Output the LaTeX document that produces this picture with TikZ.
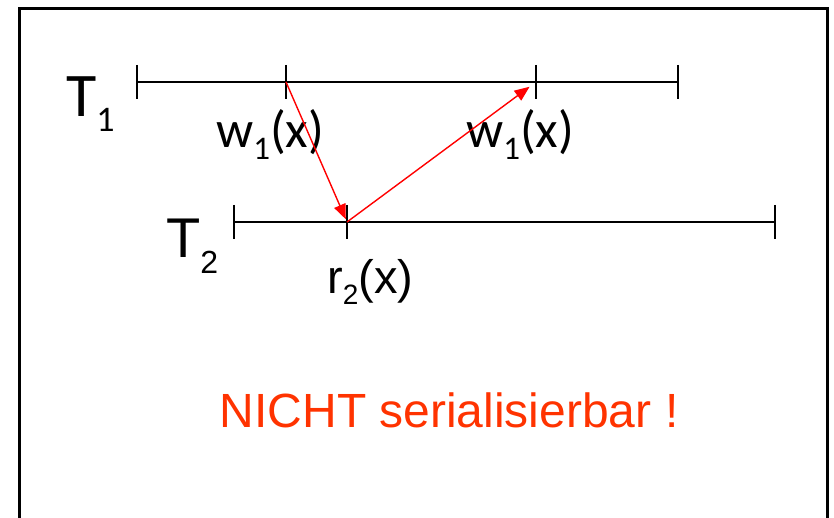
\documentclass[tikz,border=0pt]{standalone}
\usepackage{fontspec}
\setmainfont{Liberation Sans}
\newfontfamily\cfont{Carlito}
\usetikzlibrary{arrows.meta}
\definecolor{confred}{RGB}{255,0,0}
\definecolor{warnred}{RGB}{255,51,0}
\newcommand{\fsz}[1]{\fontsize{#1}{#1}\selectfont}
\newcommand{\lowsub}[3]{\raisebox{-#1}{\fsz{#2}#3}}

\begin{document}
\begin{tikzpicture}[x=1pt,y=-1pt,
  tline/.style={line width=1.5pt},
  conf/.style={draw=confred,line width=1.4pt,-{Triangle[length=15pt,width=12pt]}},
  lbl/.style={anchor=base west,inner sep=0pt}]
\useasboundingbox (0,0) rectangle (834,518);
\clip (0,0) rectangle (834,518);
% frame (runs off the bottom)
\draw[line width=3.5pt] (19.5,540) |- (827.5,8.5) -- (827.5,540);
% T1 time line
\coordinate (a0) at (137,82);
\coordinate (a1) at (286,82);
\coordinate (a2) at (536,82);
\coordinate (a3) at (678,82);
% T2 time line
\coordinate (b0) at (234,222);
\coordinate (b1) at (347,222);
\coordinate (b2) at (775,222);
\draw[tline] (a0) -- (a3);
\draw[tline] (b0) -- (b2);
\foreach \c in {a0,a1,a2,a3,b0,b1,b2}{\draw[tline] (\c) ++(0,-17) -- ++(0,34);}
% labels
\node[lbl] (t1) at (66,117) {\cfont\fsz{62}T\lowsub{15pt}{36}{1}};
\node[lbl] (t2) at (166,258) {\fsz{56}T\lowsub{16pt}{32}{2}};
\node[lbl] (w1a) at (216,148) {\cfont\fsz{52}w\lowsub{12pt}{33}{1}(x)};
\node[lbl] (w1b) at (466,148) {\cfont\fsz{52}w\lowsub{12pt}{33}{1}(x)};
\node[lbl] (r2) at (327,293) {\fsz{47}r\lowsub{11pt}{28}{2}(x)};
% conflicts
\draw[conf,shorten >=3pt] (a1) -- (b1);
\draw[conf,shorten >=8pt] (b1) -- (a2);
\node[lbl,text=warnred] (verdict) at (219.5,427) {\fsz{48}NICHT serialisierbar !};
\end{tikzpicture}
\end{document}
